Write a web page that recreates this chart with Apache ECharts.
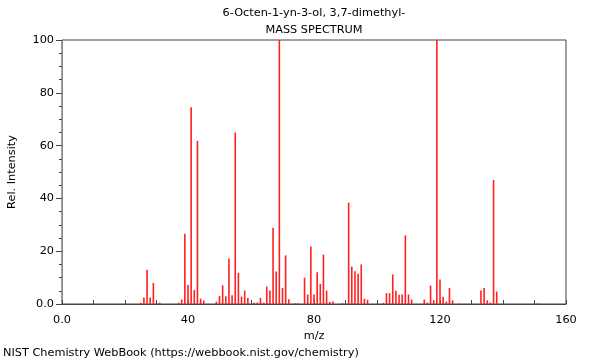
<!DOCTYPE html>
<html>
<head>
<meta charset="utf-8">
<script src="https://cdn.jsdelivr.net/npm/echarts@6/dist/echarts.min.js"></script>
<style>html,body{margin:0;padding:0;background:#fff}#c{width:600px;height:360px}</style>
</head>
<body>
<div id="c"></div>
<script>
const titleLines = ["6-Octen-1-yn-3-ol, 3,7-dimethyl-", "MASS SPECTRUM"];
const footer = "NIST Chemistry WebBook (https://webbook.nist.gov/chemistry)";
const mzValues = [25,26,27,28,29,31,37,38,39,40,41,42,43,44,45,49,50,51,52,53,54,55,56,57,58,59,61,62,63,64,65,66,67,68,69,70,71,72,74,75,77,78,79,80,81,82,83,84,85,86,89,91,92,93,94,95,96,97,102,103,104,105,106,107,108,109,110,111,115,116,117,118,119,120,121,122,123,124,126,133,134,135,136,137,138,151];
const intensities = [0.4,2.5,13,2.5,8,0.5,0.5,1.7,26.6,7.2,74.5,5.3,61.8,2,1.3,0.9,3,7.1,2.9,17.2,3.3,65,11.8,2.8,5.1,2.3,0.5,0.6,2.3,0.5,6.6,5.1,28.9,12.3,100,6.1,18.4,1.8,0.3,0.3,10,3.6,21.8,3.6,12,7.6,18.7,5.1,0.8,0.9,0.4,38.4,14.2,12.4,11.5,15,2,1.6,0.4,4.1,4.1,11.2,5,3.5,3.6,26,3.6,1.7,1.7,0.5,7,1.4,100,9.3,2.7,0.9,6.1,1.4,0.2,5.1,6.1,1.4,0.5,47,4.7,0.3];
const xLabelTicks = [0,40,80,120,160];
const yLabelTicks = [0,20,40,60,80,100];

const font = "DejaVu Sans";
const fs = 11.3;
const chart = echarts.init(document.getElementById('c'), null, {renderer:'canvas'});
chart.setOption({
  animation:false,
  backgroundColor:'#fff',
  title:[
    {text:titleLines[0], left:314, top:8, padding:0, textAlign:'center', textStyle:{fontFamily:font,fontSize:fs,fontWeight:'normal',color:'#000'}},
    {text:titleLines[1], left:314, top:25, padding:0, textAlign:'center', textStyle:{fontFamily:font,fontSize:fs,fontWeight:'normal',color:'#000'}},
    {text:footer, left:3, top:348, padding:0, textStyle:{fontFamily:font,fontSize:fs,fontWeight:'normal',color:'#000'}}
  ],
  grid:{left:62,right:34,top:40,bottom:56,containLabel:false,outerBoundsMode:'none',show:true,borderColor:'#444',borderWidth:1,backgroundColor:'transparent'},
  xAxis:{
    type:'value',min:0,max:160,interval:10,
    name:'m/z',nameLocation:'middle',nameGap:25,
    nameTextStyle:{fontFamily:font,fontSize:fs,color:'#000'},
    axisLine:{show:true,lineStyle:{color:'#444',width:1}},
    axisTick:{show:true,inside:true,length:4,lineStyle:{color:'#444'}},
    axisLabel:{fontFamily:font,fontSize:fs,color:'#000',margin:11,
      formatter:v=> xLabelTicks.indexOf(v)>=0 ? (v===0?'0.0':String(v)) : ''},
    splitLine:{show:false}
  },
  yAxis:{
    type:'value',min:0,max:100,interval:20,
    name:'Rel. Intensity',nameLocation:'middle',nameGap:44,nameRotate:90,
    nameTextStyle:{fontFamily:font,fontSize:fs,color:'#000'},
    axisLine:{show:true,lineStyle:{color:'#888',width:1}},
    axisTick:{show:true,inside:false,length:6,lineStyle:{color:'#444'}},
    minorTick:{show:true,splitNumber:4,length:3,lineStyle:{color:'#444'}},
    axisLabel:{fontFamily:font,fontSize:fs,color:'#000',margin:8,
      formatter:v=> yLabelTicks.indexOf(v)>=0 ? (v===0?'0.0':String(v)) : ''},
    splitLine:{show:false}
  },
  series:[{
    type:'bar',
    data:mzValues.map((m,i)=>[m,intensities[i]]),
    barWidth:1.6,
    itemStyle:{color:'#ff2020'},
    silent:true
  }]
});
</script>
</body>
</html>
